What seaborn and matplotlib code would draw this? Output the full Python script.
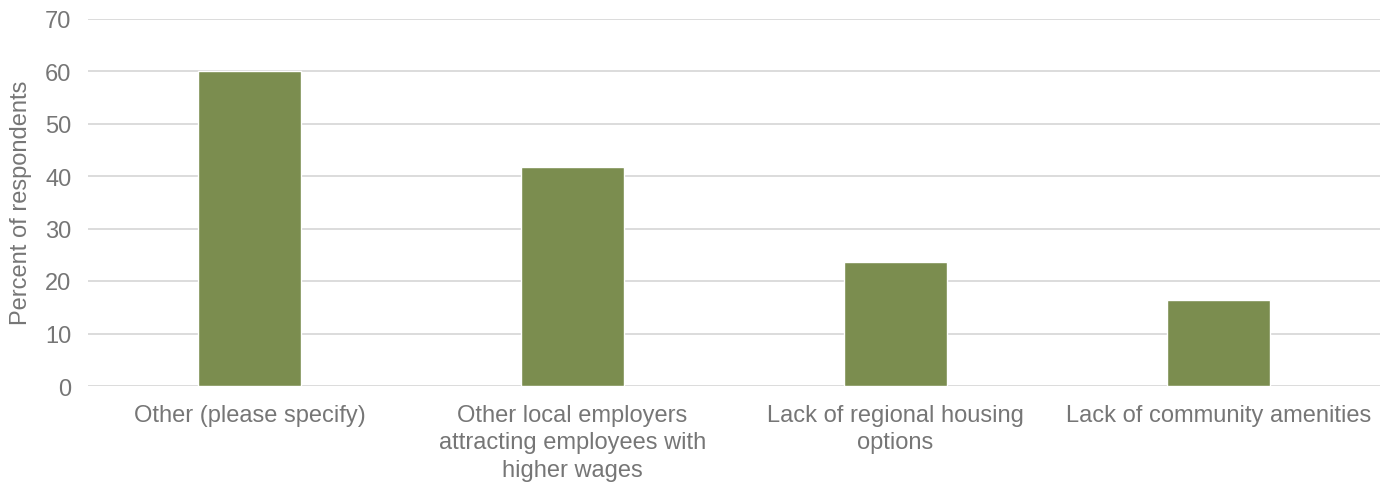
import matplotlib
matplotlib.use("Agg")
import matplotlib.pyplot as plt
import seaborn as sns
import pandas as pd

categories = [
    "Other (please specify)",
    "Other local employers\nattracting employees with\nhigher wages",
    "Lack of regional housing\noptions",
    "Lack of community amenities",
]
percents = [60.0, 41.8, 23.6, 16.3]
y_ticks = [0, 10, 20, 30, 40, 50, 60, 70]

sns.set_theme(style="white")
plt.rcParams["font.family"] = ["Liberation Sans", "DejaVu Sans"]

df = pd.DataFrame({"category": categories, "percent": percents})

fig = plt.figure(figsize=(13.91, 4.85), dpi=100)
ax = fig.add_axes([88 / 1391, 1 - 387 / 485, (1380 - 88) / 1391, (387 - 19.5) / 485])

sns.barplot(data=df, x="category", y="percent", color="#7b8d4f", saturation=1,
            width=0.316, ax=ax, zorder=3)

ax.set_ylim(0, 70)
ax.set_yticks(y_ticks)
ax.set_xlim(-0.5, len(categories) - 0.5)
ax.grid(axis="y", color="#d9d9d9", linewidth=1.3, zorder=0)
ax.grid(axis="x", visible=False)
for s in ax.spines.values():
    s.set_visible(False)

ax.tick_params(axis="both", length=0, colors="#767676", labelsize=17)
ax.tick_params(axis="y", pad=12)
ax.tick_params(axis="x", pad=13)
for lbl in ax.get_xticklabels():
    lbl.set_linespacing(1.32)
ax.set_xlabel("")
ax.set_ylabel("Percent of respondents", color="#767676", fontsize=17, labelpad=9)

fig.savefig("out.png", dpi=100, facecolor="white")
